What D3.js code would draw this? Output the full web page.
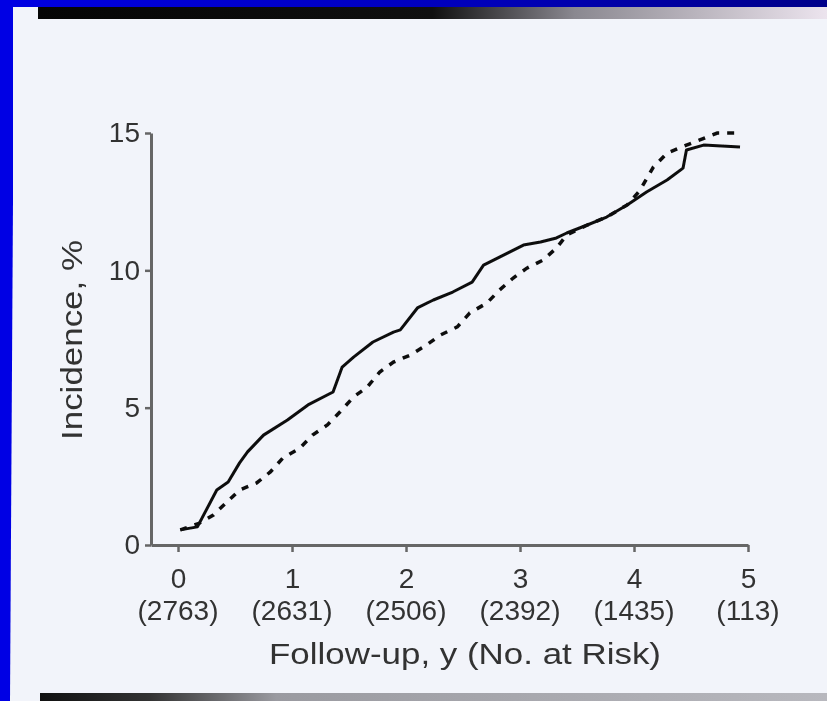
<!DOCTYPE html>
<html>
<head>
<meta charset="utf-8">
<script src="https://cdn.jsdelivr.net/npm/d3@7"></script>
<style>
body { margin: 0; background: #f2f4fa; }
svg { display: block; }
</style>
</head>
<body>
<div id="chart"></div>
<script>
// Data
//= ================================
var years = [0, 1, 2, 3, 4, 5];
var atRisk = ["(2763)", "(2631)", "(2506)", "(2392)", "(1435)", "(113)"];
var yTicks = [0, 5, 10, 15];

// solid curve (follow-up years, incidence %)
var solidYears = [0.02, 0.17, 0.34, 0.44, 0.54, 0.61, 0.75, 0.96, 1.14, 1.36, 1.44, 1.54, 1.71, 1.89, 1.95,
    2.10, 2.24, 2.41, 2.58, 2.68, 2.82, 3.03, 3.18, 3.32, 3.41, 3.59, 3.76, 3.94, 4.11, 4.29, 4.43, 4.46, 4.61, 4.93];
var solidPct = [0.55, 0.66, 2.0, 2.29, 2.99, 3.39, 4.0, 4.55, 5.10, 5.57, 6.48, 6.84, 7.39, 7.75, 7.83,
    8.63, 8.92, 9.21, 9.57, 10.19, 10.48, 10.92, 11.03, 11.18, 11.36, 11.65, 11.94, 12.38, 12.85, 13.29, 13.72, 14.38, 14.56, 14.49];

// dashed curve
var dashYears = [0.02, 0.19, 0.31, 0.43, 0.54, 0.69, 0.81, 0.92, 1.07, 1.18, 1.31, 1.42, 1.54, 1.66, 1.77, 1.89,
    2.04, 2.18, 2.30, 2.45, 2.56, 2.71, 2.82, 2.94, 3.06, 3.20, 3.32, 3.41, 3.59, 3.76, 3.94, 4.05, 4.17, 4.29, 4.46, 4.73, 4.93];
var dashPct = [0.55, 0.80, 1.09, 1.57, 2.0, 2.26, 2.66, 3.17, 3.53, 4.0, 4.37, 4.84, 5.39, 5.75, 6.30, 6.66,
    6.92, 7.28, 7.64, 7.94, 8.45, 8.81, 9.28, 9.72, 10.08, 10.37, 10.81, 11.29, 11.65, 11.94, 12.38, 12.9, 13.76, 14.27, 14.56, 15.0, 15.0];

var svgWidth = 827;
var svgHeight = 701;
var fontFam = "'Liberation Sans', Arial, Helvetica, sans-serif";
var ink = "#333";

var svg = d3.select("#chart")
    .append("svg")
    .attr("width", svgWidth)
    .attr("height", svgHeight);

var defs = svg.append("defs");

// soft scan look
defs.append("filter").attr("id", "soft")
    .append("feGaussianBlur").attr("stdDeviation", 0.55);

var topGrad = defs.append("linearGradient").attr("id", "topGrad");
topGrad.append("stop").attr("offset", "0%").attr("stop-color", "#0000e4");
topGrad.append("stop").attr("offset", "60%").attr("stop-color", "#0000b8");
topGrad.append("stop").attr("offset", "100%").attr("stop-color", "#00008a");

var barGrad = defs.append("linearGradient").attr("id", "barGrad");
barGrad.append("stop").attr("offset", "0%").attr("stop-color", "#050505");
barGrad.append("stop").attr("offset", "50%").attr("stop-color", "#101010");
barGrad.append("stop").attr("offset", "68%").attr("stop-color", "#8a8890");
barGrad.append("stop").attr("offset", "100%").attr("stop-color", "#ece4ee");

var bottomGrad = defs.append("linearGradient").attr("id", "bottomGrad");
bottomGrad.append("stop").attr("offset", "0%").attr("stop-color", "#111");
bottomGrad.append("stop").attr("offset", "14%").attr("stop-color", "#333");
bottomGrad.append("stop").attr("offset", "30%").attr("stop-color", "#9a9aa0");
bottomGrad.append("stop").attr("offset", "100%").attr("stop-color", "#b8b8be");

// paper
svg.append("rect")
    .attr("width", svgWidth)
    .attr("height", svgHeight)
    .attr("fill", "#f2f4fa");

// scan frame: dark bar at the top, dark edge at the bottom, blue border
svg.append("rect")
    .attr("x", 38).attr("y", 6)
    .attr("width", svgWidth - 38).attr("height", 13)
    .attr("fill", "url(#barGrad)");

svg.append("rect")
    .attr("x", 40).attr("y", 693)
    .attr("width", svgWidth - 40).attr("height", 8)
    .attr("fill", "url(#bottomGrad)");

svg.append("rect")
    .attr("x", 0).attr("y", 0)
    .attr("width", svgWidth).attr("height", 7)
    .attr("fill", "url(#topGrad)");

svg.append("polygon")
    .attr("points", "0,0 13,0 13,200 10,701 0,701")
    .attr("fill", "#0000e4");

// scales
var xScale = d3.scaleLinear()
    .domain([-0.237, 5])
    .range([151, 748]);

var yScale = d3.scaleLinear()
    .domain([0, 15])
    .range([545, 133]);

var chartGroup = svg.append("g").attr("filter", "url(#soft)");

// axes
var bottomAxis = d3.axisBottom(xScale)
    .tickValues(years)
    .tickSize(7)
    .tickSizeOuter(0)
    .tickPadding(16)
    .tickFormat(d3.format("d"));

var leftAxis = d3.axisLeft(yScale)
    .tickValues(yTicks)
    .tickSize(6)
    .tickSizeOuter(0)
    .tickPadding(5);

var xAxis = chartGroup.append("g")
    .attr("transform", "translate(-3, 0)")
    .call(bottomAxis);
xAxis.attr("transform", "translate(0, 545)");

var yAxis = chartGroup.append("g")
    .attr("transform", "translate(151, 0)")
    .call(leftAxis);

[xAxis, yAxis].forEach(function(ax) {
    ax.select(".domain").attr("stroke", "#666").attr("stroke-width", 3);
    ax.selectAll(".tick line").attr("stroke", "#666").attr("stroke-width", 2.5);
    ax.selectAll(".tick text")
        .attr("fill", ink)
        .style("font-family", fontFam)
        .style("font-size", "28px");
});

// number at risk row under the year labels
chartGroup.append("g").selectAll("text")
    .data(years)
    .enter()
    .append("text")
    .attr("x", d => xScale(d))
    .attr("y", 620)
    .attr("text-anchor", "middle")
    .attr("fill", ink)
    .style("font-family", fontFam)
    .style("font-size", "28px")
    .text((d, i) => atRisk[i]);

// axis titles
chartGroup.append("text")
    .attr("x", 465)
    .attr("y", 664)
    .attr("text-anchor", "middle")
    .attr("textLength", 392)
    .attr("lengthAdjust", "spacingAndGlyphs")
    .attr("fill", ink)
    .style("font-family", fontFam)
    .style("font-size", "29px")
    .text("Follow-up, y (No. at Risk)");

chartGroup.append("text")
    .attr("transform", "translate(82, 340) rotate(-90)")
    .attr("text-anchor", "middle")
    .attr("textLength", 200)
    .attr("lengthAdjust", "spacingAndGlyphs")
    .attr("fill", ink)
    .style("font-family", fontFam)
    .style("font-size", "29px")
    .text("Incidence, %");

// curves
var line = d3.line()
    .x(d => xScale(d[0]))
    .y(d => yScale(d[1]));

var solidData = solidYears.map((t, i) => [t, solidPct[i]]);
var dashData = dashYears.map((t, i) => [t, dashPct[i]]);

chartGroup.append("path")
    .datum(dashData)
    .attr("d", line)
    .attr("fill", "none")
    .attr("stroke", "#111")
    .attr("stroke-width", 3.5)
    .attr("stroke-dasharray", "7,8");

chartGroup.append("path")
    .datum(solidData)
    .attr("d", line)
    .attr("fill", "none")
    .attr("stroke", "#111")
    .attr("stroke-width", 3)
    .attr("stroke-linejoin", "round");
</script>
</body>
</html>
